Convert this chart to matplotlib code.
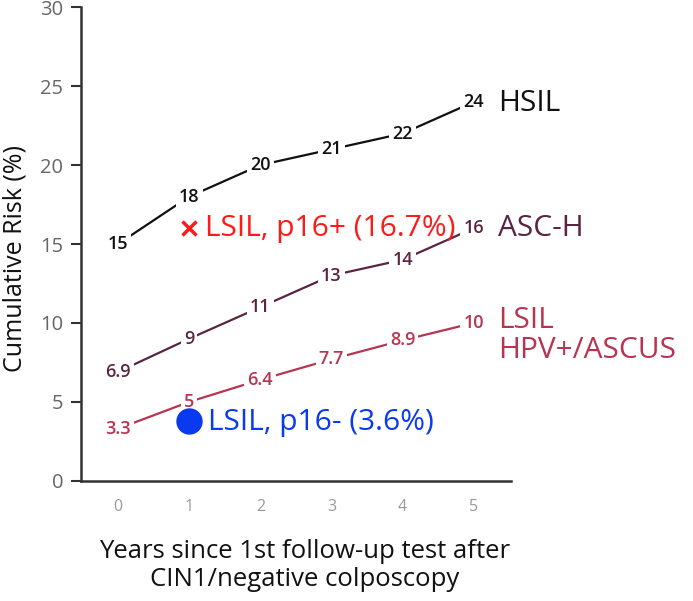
import matplotlib
matplotlib.use('Agg')
import matplotlib.pyplot as plt

plt.rcParams['font.family'] = ['Open Sans', 'DejaVu Sans']

years = [0, 1, 2, 3, 4, 5]
hsil = [15, 18, 20, 21, 22, 24]
asch = [6.9, 9, 11, 13, 14, 16]
lsil_ascus = [3.3, 5, 6.4, 7.7, 8.9, 10]
hsil_lbl = ['15', '18', '20', '21', '22', '24']
asch_lbl = ['6.9', '9', '11', '13', '14', '16']
lsil_lbl = ['3.3', '5', '6.4', '7.7', '8.9', '10']

p16_pos_x, p16_pos_y = 1, 16.0
p16_neg_x, p16_neg_y = 1, 3.8

C_HSIL = '#111111'
C_ASCH = '#5a2443'
C_LSIL = '#b83450'
C_RED = '#ff1a1a'
C_BLUE = '#0a3af0'

fig = plt.figure(figsize=(6.93, 6.01), dpi=100)
ax = fig.add_axes([0.117, 0.2, 0.62, 0.788])

series = [(hsil, hsil_lbl, C_HSIL), (asch, asch_lbl, C_ASCH), (lsil_ascus, lsil_lbl, C_LSIL)]
for vals, lbls, c in series:
    ax.plot(years, vals, color=c, lw=1.6, zorder=2)
    for x, y, t in zip(years, vals, lbls):
        ax.text(x, y, t, color=c, fontsize=13, fontweight='semibold', ha='center', va='center',
                zorder=3, bbox=dict(facecolor='white', edgecolor='none', pad=2.2))

# series names on the right
ax.text(5.34, 23.9, 'HSIL', color=C_HSIL, fontsize=21.5, va='center', ha='left', clip_on=False)
ax.text(5.34, 16.0, 'ASC-H', color=C_ASCH, fontsize=21.5, va='center', ha='left', clip_on=False)
ax.text(5.34, 9.2, 'LSIL\nHPV+/ASCUS', color=C_LSIL, fontsize=21.5, va='center', ha='left',
        linespacing=1.02, clip_on=False)

# p16 markers
ax.plot([p16_pos_x], [p16_pos_y], marker='x', color=C_RED, ms=10, mew=2.5, ls='none', zorder=4)
ax.text(p16_pos_x + 0.22, p16_pos_y, 'LSIL, p16+ (16.7%)', color=C_RED, fontsize=21.5, va='center', zorder=4)
ax.plot([p16_neg_x], [p16_neg_y], marker='o', color=C_BLUE, ms=18, ls='none', zorder=4)
ax.text(p16_neg_x + 0.26, p16_neg_y - 0.1, 'LSIL, p16- (3.6%)', color=C_BLUE, fontsize=21.5, va='center', zorder=4)

ax.set_xlim(-0.52, 5.52)
ax.set_ylim(0, 30)
ax.set_xticks(years)
ax.set_yticks([0, 5, 10, 15, 20, 25, 30])
ax.tick_params(axis='x', length=0, labelsize=11.5, labelcolor='#999999', pad=13)
ax.tick_params(axis='y', length=7, width=1.5, color='#333333', labelsize=14.5, labelcolor='#666666', pad=6)

for s in ['top', 'right']:
    ax.spines[s].set_visible(False)
for s in ['left', 'bottom']:
    ax.spines[s].set_linewidth(1.8)
    ax.spines[s].set_color('#333333')

ax.set_ylabel('Cumulative Risk (%)', fontsize=18, color='#111111')
ax.set_xlabel('Years since 1st follow-up test after\nCIN1/negative colposcopy', fontsize=18.5,
              color='#111111', linespacing=1.15)
ax.yaxis.set_label_coords(-0.124, 0.47)
ax.xaxis.set_label_coords(0.52, -0.123)

plt.savefig('out.png', dpi=100)
